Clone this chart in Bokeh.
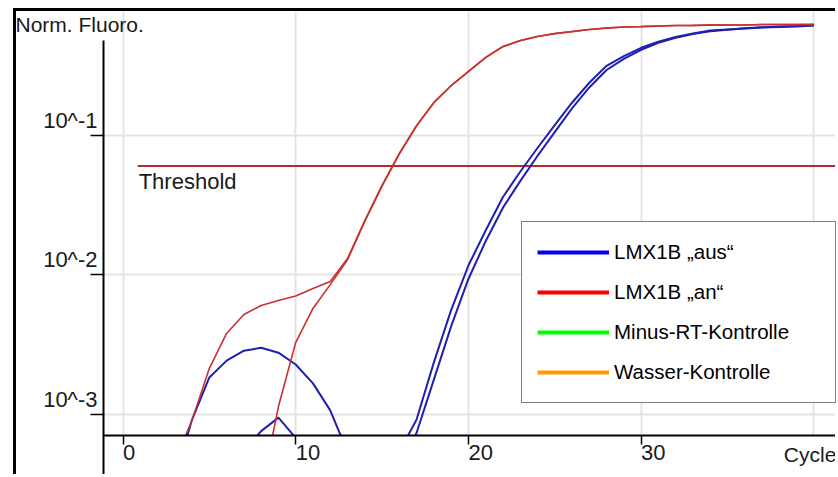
from bokeh.plotting import figure
from bokeh.models import (Range1d, FixedTicker, Legend, LegendItem, Label,
                          CustomJSTickFormatter, LogAxis, BoxAnnotation)
from bokeh.embed import file_html
from bokeh.resources import INLINE

# ---------------- data ----------------
cycles = [1, 2, 3, 4, 5, 6, 7, 8, 9, 10, 11, 12, 13, 14, 15, 16, 17, 18, 19, 20,
          21, 22, 23, 24, 25, 26, 27, 28, 29, 30, 31, 32, 33, 34, 35, 36, 37, 38, 39, 40]

aus_rep1 = [2.0e-4, 2.5e-4, 3.5e-4, 9.2e-4, 1.84e-3, 2.43e-3, 2.86e-3, 3.0e-3, 2.77e-3, 2.28e-3,
            1.67e-3, 1.07e-3, 5.4e-4, 3.8e-4, 3.5e-4, 5.4e-4, 9.2e-4, 2.36e-3, 5.58e-3, 0.01164,
            0.02075, 0.03597, 0.05458, 0.0807, 0.1178, 0.1702, 0.2366, 0.3126, 0.3673, 0.4207,
            0.4656, 0.5035, 0.5333, 0.5598, 0.5689, 0.5781, 0.5875, 0.5929, 0.5970, 0.6081]
aus_rep2 = [2.2e-4, 2.0e-4, 2.6e-4, 3.0e-4, 2.8e-4, 2.5e-4, 5.5e-4, 7.6e-4, 9.5e-4, 6.8e-4,
            4.0e-4, 3.2e-4, 2.9e-4, 3.0e-4, 3.3e-4, 3.4e-4, 7.41e-4, 1.778e-3, 4.27e-3, 9.33e-3,
            0.01738, 0.0302, 0.0468, 0.0708, 0.1047, 0.1549, 0.2188, 0.2917, 0.3508, 0.4074,
            0.4571, 0.4955, 0.5272, 0.5534, 0.5675, 0.5808, 0.5902, 0.5970, 0.6026, 0.6109]
an_rep1 = [2.0e-4, 3.0e-4, 4.7e-4, 9.1e-4, 2.14e-3, 3.8e-3, 5.2e-3, 6.03e-3, 6.55e-3, 7.05e-3,
           7.98e-3, 8.95e-3, 0.01306, 0.0244, 0.0436, 0.0738, 0.117, 0.171, 0.226, 0.285,
           0.359, 0.430, 0.474, 0.507, 0.532, 0.550, 0.569, 0.583, 0.593, 0.597,
           0.602, 0.608, 0.608, 0.612, 0.612, 0.612, 0.618, 0.618, 0.618, 0.618]
an_rep2 = [1.8e-4, 2.0e-4, 2.4e-4, 2.2e-4, 2.6e-4, 2.5e-4, 2.7e-4, 2.8e-4, 1.14e-3, 3.27e-3,
           5.74e-3, 8.5e-3, 0.0128, 0.0241, 0.0431, 0.0731, 0.1162, 0.1702, 0.2251, 0.2842,
           0.3578, 0.4288, 0.4731, 0.5062, 0.5311, 0.5494, 0.5681, 0.5822, 0.5924, 0.5966,
           0.6015, 0.6071, 0.6083, 0.6110, 0.6118, 0.6124, 0.6170, 0.6175, 0.6181, 0.6186]
minus_rt = [3.1e-4, 2.8e-4, 3.3e-4, 2.9e-4, 3.0e-4, 3.4e-4, 3.2e-4, 2.7e-4, 3.1e-4, 3.5e-4,
            3.3e-4, 2.9e-4, 3.0e-4, 3.2e-4, 3.6e-4, 3.1e-4, 2.8e-4, 3.0e-4, 3.3e-4, 3.5e-4,
            3.2e-4, 3.0e-4, 2.9e-4, 3.4e-4, 3.6e-4, 3.3e-4, 3.1e-4, 3.0e-4, 3.2e-4, 3.5e-4,
            3.7e-4, 3.4e-4, 3.2e-4, 3.1e-4, 3.3e-4, 3.6e-4, 3.8e-4, 3.5e-4, 3.3e-4, 3.4e-4]
wasser = [2.6e-4, 2.9e-4, 2.5e-4, 2.7e-4, 3.0e-4, 2.8e-4, 2.6e-4, 2.9e-4, 3.1e-4, 2.7e-4,
          2.5e-4, 2.8e-4, 3.0e-4, 2.9e-4, 2.6e-4, 2.7e-4, 3.1e-4, 3.0e-4, 2.8e-4, 2.6e-4,
          2.9e-4, 3.2e-4, 3.0e-4, 2.7e-4, 2.8e-4, 3.1e-4, 3.3e-4, 2.9e-4, 2.7e-4, 3.0e-4,
          3.2e-4, 3.1e-4, 2.8e-4, 2.9e-4, 3.3e-4, 3.4e-4, 3.0e-4, 2.9e-4, 3.2e-4, 3.1e-4]

threshold = 0.06
threshold_start = 0.85

x_ticks = [0, 10, 20, 30]
x_grid = [0, 10, 20, 30, 40]
y_ticks = [0.001, 0.01, 0.1]

legend_labels = ["LMX1B \u201eaus\u201c", "LMX1B \u201ean\u201c", "Minus-RT-Kontrolle", "Wasser-Kontrolle"]
legend_colors = ["#0000ff", "#ff0000", "#00ff00", "#ff9900"]

# ---------------- layout / style (pixel calibration of the page) ----------------
FONT = "Liberation Sans"
PAGE_W, PAGE_H = 838, 477
BORDER_X, BORDER_Y, BORDER_W = 13, 8, 3
CANVAS_X, CANVAS_Y = BORDER_X + BORDER_W, BORDER_Y + BORDER_W
AXIS_X_PX, AXIS_Y_PX, YAXIS_TOP_PX = 103, 435, 40
X0_PX, PX_PER_CYCLE = 122.5, 17.27
YDEC_PX, PX_PER_DEC = 134.5, 139.75   # pixel row of 10^-1, pixels per decade


def px_to_x(px):
    return (px - X0_PX) / PX_PER_CYCLE


def px_to_y(py):
    return 10 ** (-1 + (YDEC_PX - py) / PX_PER_DEC)


x_start, x_end = px_to_x(CANVAS_X), px_to_x(PAGE_W)
y_start, y_end = px_to_y(PAGE_H), px_to_y(CANVAS_Y)
x_axis_at = px_to_y(AXIS_Y_PX)     # where the x axis crosses
y_axis_at = px_to_x(AXIS_X_PX)     # where the y axis crosses

BLUE = "#2020b0"
RED = "#c93030"
GRID = "#e4e4e4"
TXT = "#1a1a1a"
FS = "22px"

p = figure(width=PAGE_W - CANVAS_X, height=PAGE_H - CANVAS_Y, y_axis_type="log",
           x_range=Range1d(x_start, x_end), y_range=Range1d(y_start, y_end),
           output_backend="svg", toolbar_location=None,
           min_border_left=0, min_border_right=0, min_border_top=0, min_border_bottom=0)
p.styles = {"margin-left": f"{BORDER_X}px", "margin-top": f"{BORDER_Y}px",
            "border-left": f"{BORDER_W}px solid #000", "border-top": f"{BORDER_W}px solid #000"}
p.outline_line_color = None
p.background_fill_color = "white"
p.border_fill_color = "white"

# grid
p.xgrid.ticker = FixedTicker(ticks=x_grid)
p.ygrid.ticker = FixedTicker(ticks=y_ticks)
for g in (p.xgrid[0], p.ygrid[0]):
    g.grid_line_color = GRID
    g.grid_line_width = 2

# x axis (crossing inside the frame)
xa = p.xaxis[0]
xa.fixed_location = x_axis_at
xa.bounds = (y_axis_at, x_end)
xa.level = "overlay"
xa.ticker = FixedTicker(ticks=x_ticks)
xa.major_label_orientation = -1e-6       # left-aligned labels next to the ticks
xa.major_tick_out = 9
xa.major_tick_in = 0
xa.minor_tick_line_color = None
xa.axis_line_width = 2
xa.major_tick_line_width = 1.5
xa.major_label_standoff = 8
xa.major_label_text_font = FONT
xa.major_label_text_font_size = FS
xa.major_label_text_color = TXT

# y axis: ticks on the main axis, labels on a second axis placed just above each tick
ya = p.yaxis[0]
ya.fixed_location = y_axis_at
ya.bounds = (y_start, px_to_y(YAXIS_TOP_PX))
ya.level = "overlay"
ya.ticker = FixedTicker(ticks=y_ticks)
ya.formatter = CustomJSTickFormatter(code="return '';")
ya.major_label_standoff = 0
ya.major_tick_out = 13
ya.major_tick_in = 0
ya.minor_tick_line_color = None
ya.axis_line_width = 2
ya.major_tick_line_width = 1.5

LABEL_SHIFT = 10 ** (15 / PX_PER_DEC)
ylab = LogAxis(ticker=FixedTicker(ticks=[t * LABEL_SHIFT for t in y_ticks]),
               formatter=CustomJSTickFormatter(code="return '10^' + Math.floor(Math.log10(tick) + 1e-9);"),
               fixed_location=y_axis_at, level="overlay",
               axis_line_color=None, major_tick_line_color=None, minor_tick_line_color=None,
               major_tick_out=0, major_tick_in=0, major_label_standoff=6,
               major_label_text_font=FONT, major_label_text_font_size=FS,
               major_label_text_color=TXT)
p.add_layout(ylab, "left")

# threshold
p.line(x=[threshold_start, x_end], y=[threshold, threshold], line_color="#b52a2a", line_width=2)

# curves
ctrl1 = p.line(cycles, minus_rt, line_color=legend_colors[2], line_width=4)
ctrl2 = p.line(cycles, wasser, line_color=legend_colors[3], line_width=4)
for ys in (aus_rep1, aus_rep2):
    p.line(cycles, ys, line_color=BLUE, line_width=2)
for ys in (an_rep1, an_rep2):
    p.line(cycles, ys, line_color=RED, line_width=1.6)

# white masks outside the axes (curves and grid are cut at the axes)
p.add_layout(BoxAnnotation(top=x_axis_at, fill_color="white", fill_alpha=1, line_color=None))
p.add_layout(BoxAnnotation(right=y_axis_at, fill_color="white", fill_alpha=1, line_color=None))

# texts
p.add_layout(Label(x=x_start, y=y_end, x_offset=-1, y_offset=-1,
                   text="Norm. Fluoro.", text_baseline="top", text_font=FONT,
                   text_font_size="21px", text_color=TXT))
p.add_layout(Label(x=threshold_start, y=threshold, x_offset=1, y_offset=-3,
                   text="Threshold", text_baseline="top", text_font=FONT,
                   text_font_size=FS, text_color=TXT))
p.add_layout(Label(x=x_grid[-1], y=x_axis_at, x_offset=-30, y_offset=-7,
                   text="Cycle", text_baseline="top", text_font=FONT,
                   text_font_size="21px", text_color=TXT))

# legend: bright thick swatches (hidden copies for the two sample groups)
leg_aus = p.line(cycles, aus_rep1, line_color=legend_colors[0], line_width=4, visible=False)
leg_an = p.line(cycles, an_rep1, line_color=legend_colors[1], line_width=4, visible=False)
items = [LegendItem(label=legend_labels[0], renderers=[leg_aus]),
         LegendItem(label=legend_labels[1], renderers=[leg_an]),
         LegendItem(label=legend_labels[2], renderers=[ctrl1]),
         LegendItem(label=legend_labels[3], renderers=[ctrl2])]
legend = Legend(items=items, location=(521 - CANVAS_X, PAGE_H - 403), margin=0,
                padding=15, spacing=10, glyph_width=72, glyph_height=30,
                label_height=30, label_width=206, label_standoff=5,
                label_text_font=FONT, label_text_font_size="20.5px", label_text_color="#000",
                border_line_color="#000", border_line_width=1.5,
                background_fill_color="white", background_fill_alpha=1)
p.add_layout(legend)

open("out.html", "w").write(file_html(p, INLINE))
